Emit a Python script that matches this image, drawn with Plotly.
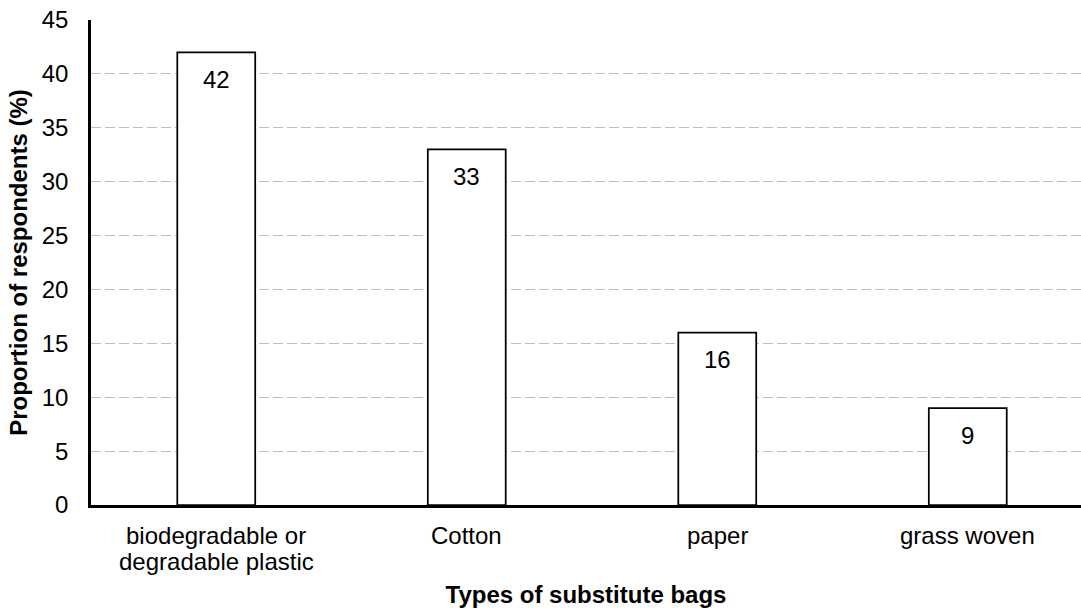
import plotly.graph_objects as go

categories = ["biodegradable or<br>degradable plastic", "Cotton", "paper", "grass woven"]
values = [42, 33, 16, 9]
y_ticks = [0, 5, 10, 15, 20, 25, 30, 35, 40, 45]

FONT = "Arial, Liberation Sans, sans-serif"
SIZE = 24
LINE_GAP = 26  # px between stacked category label lines

fig = go.Figure()
fig.add_trace(go.Bar(
    x=list(range(len(categories))),
    y=values,
    width=0.311,
    marker=dict(color="white", line=dict(color="black", width=1.75)),
    showlegend=False,
))

# value labels just under each bar's top edge
for i, v in enumerate(values):
    fig.add_annotation(
        x=i, y=v, text=str(v), showarrow=False,
        yanchor="middle", yshift=-27,
        font=dict(family=FONT, size=SIZE, color="black"),
    )

# category labels under the axis, with tighter line spacing than tick labels allow
for i, cat in enumerate(categories):
    for j, line in enumerate(cat.split("<br>")):
        fig.add_annotation(
            x=i, y=0, text=line, showarrow=False,
            yanchor="middle", yshift=-30 - j * LINE_GAP,
            font=dict(family=FONT, size=SIZE, color="black"),
        )

fig.update_layout(
    width=1081, height=608,
    margin=dict(l=91, r=0, t=20, b=103),
    plot_bgcolor="white", paper_bgcolor="white",
    font=dict(family=FONT, size=SIZE, color="black"),
    xaxis=dict(
        range=[-0.5, 3.452],
        showticklabels=False,
        showline=True, linecolor="black", linewidth=2.5,
        showgrid=False, ticks="",
        automargin=False,
        title=dict(text="<b>Types of substitute bags</b>", standoff=84,
                   font=dict(family=FONT, size=SIZE)),
    ),
    yaxis=dict(
        range=[0, 45],
        tickmode="array",
        tickvals=y_ticks,
        tickfont=dict(family=FONT, size=SIZE),
        showline=True, linecolor="black", linewidth=2.5,
        showgrid=True, gridcolor="#BFBFBF", griddash="10px,4px", gridwidth=1,
        zeroline=False, ticks="",
        ticklabelstandoff=15,
        automargin=False,
        title=dict(text="<b>Proportion of respondents (%)</b>", standoff=8,
                   font=dict(family=FONT, size=SIZE)),
    ),
)

fig.write_html("out.html")
